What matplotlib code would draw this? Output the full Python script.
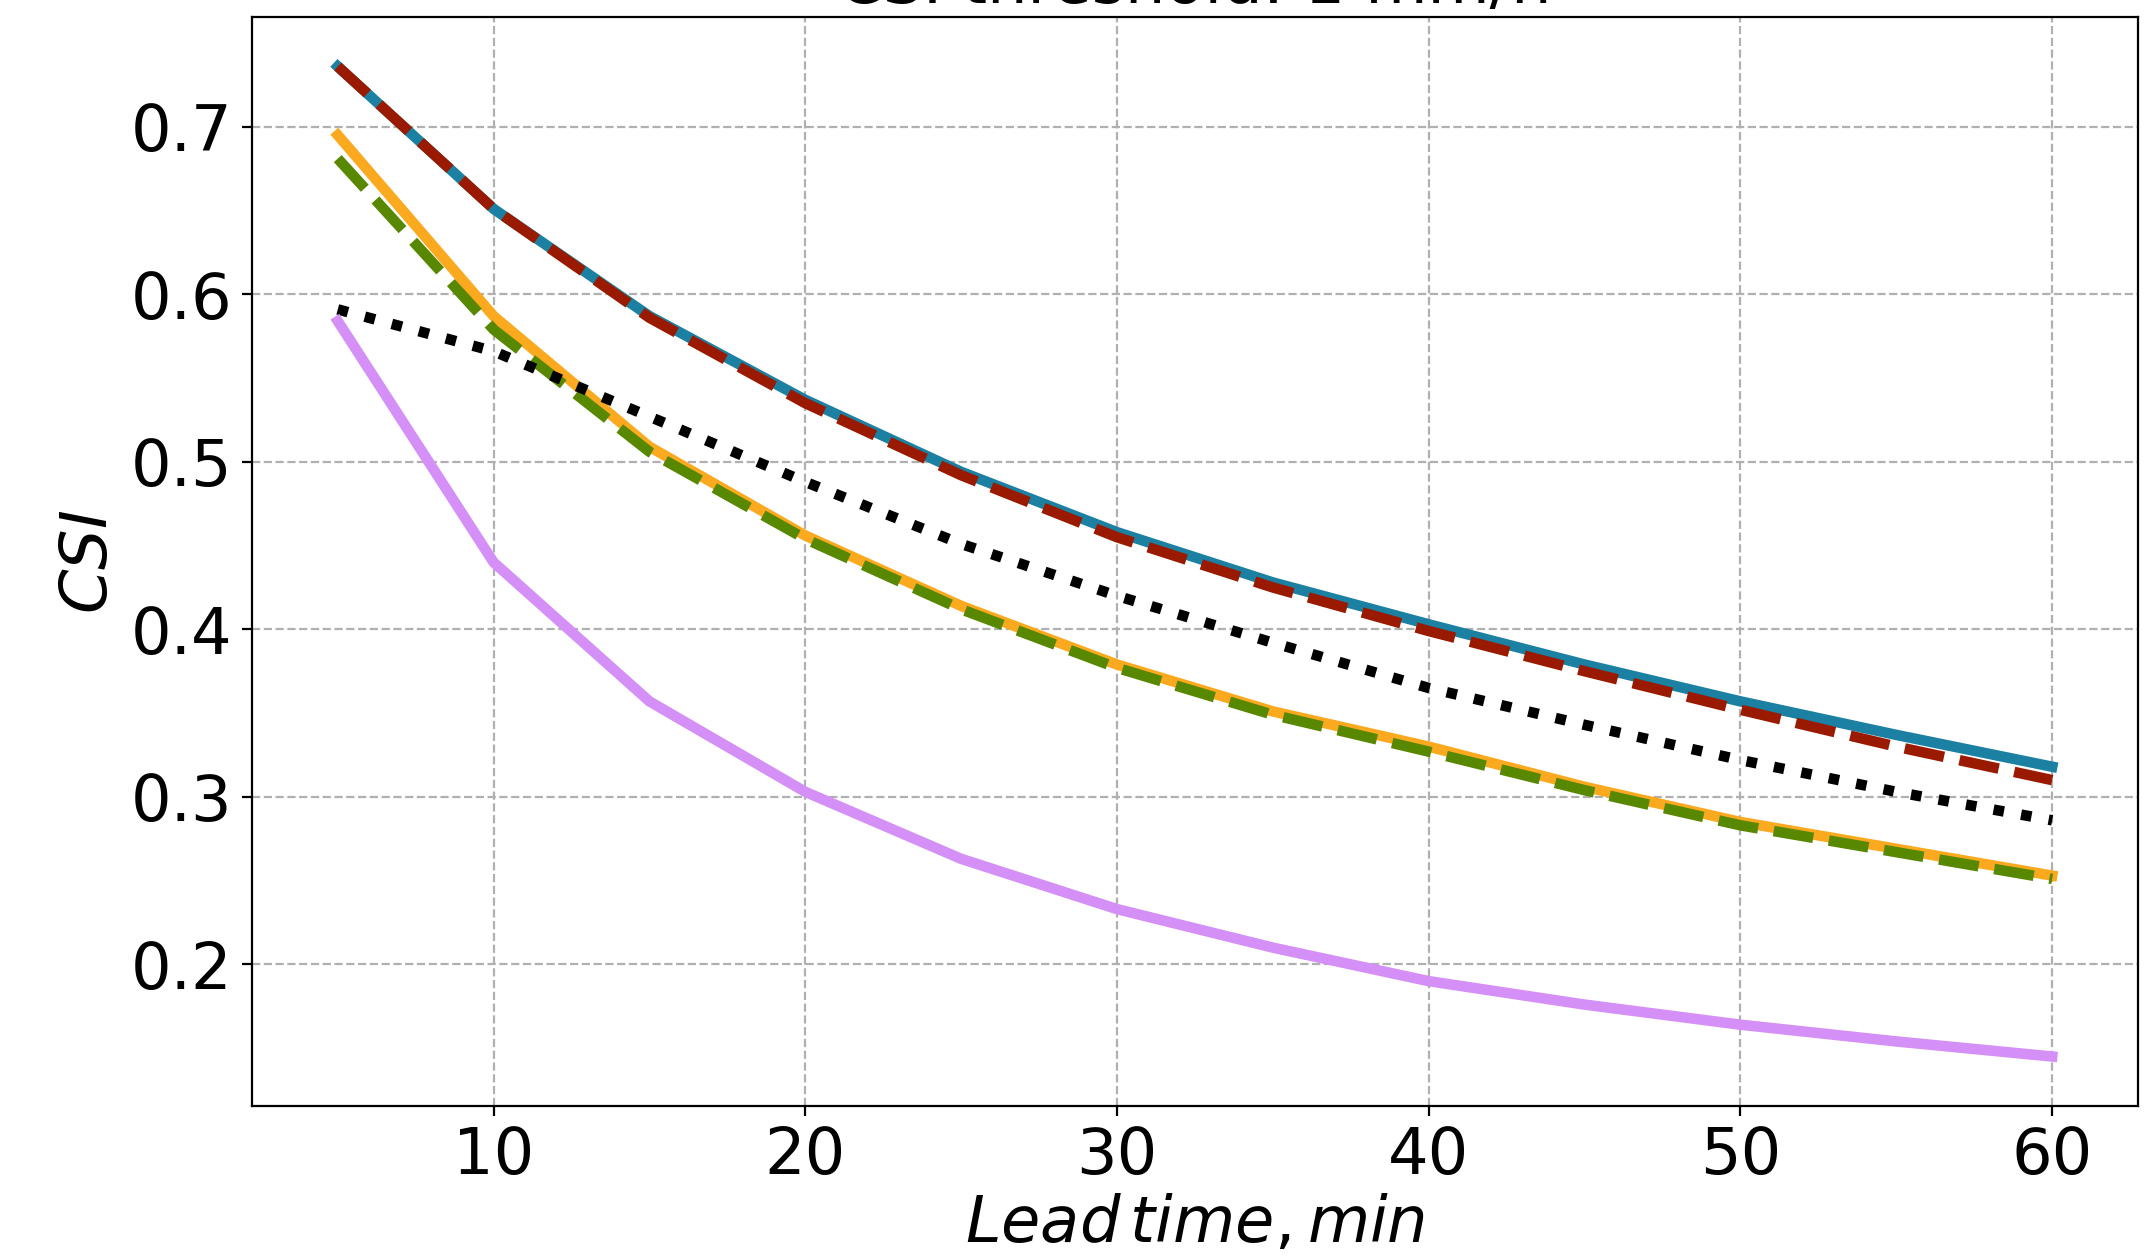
# CSI vs lead time for the different nowcasting models
import matplotlib.pyplot as plt

# Lead times (min)
lead = [5, 10, 15, 20, 25, 30, 35, 40, 45, 50, 55, 60]

# CSI values
blue_vals = [0.736, 0.651, 0.587, 0.537, 0.494, 0.458, 0.428, 0.403, 0.379, 0.357, 0.337, 0.318]
red_vals = [0.736, 0.651, 0.586, 0.535, 0.492, 0.455, 0.425, 0.399, 0.375, 0.352, 0.330, 0.310]
orange_vals = [0.695, 0.587, 0.509, 0.456, 0.414, 0.379, 0.351, 0.330, 0.306, 0.285, 0.269, 0.253]
green_vals = [0.681, 0.579, 0.506, 0.454, 0.412, 0.377, 0.349, 0.327, 0.304, 0.283, 0.267, 0.251]
black_vals = [0.591, 0.566, 0.527, 0.488, 0.451, 0.420, 0.392, 0.365, 0.343, 0.322, 0.303, 0.286]
purple_vals = [0.584, 0.440, 0.357, 0.303, 0.263, 0.233, 0.210, 0.190, 0.176, 0.164, 0.154, 0.145]

fig = plt.figure(figsize=(10.725, 6.29), dpi=200)
ax = fig.add_axes([0.1175, 0.1208, 0.8792, 0.8657])

# solid lines first, dashed ones on top
ax.plot(lead, blue_vals, color="#1b80a1", lw=3.8)
ax.plot(lead, red_vals, color="#9a1a00", lw=3.8, dashes=(3.8, 1.5))
ax.plot(lead, orange_vals, color="#fba91f", lw=3.8)
ax.plot(lead, green_vals, color="#588700", lw=3.8, dashes=(3.8, 1.5))
ax.plot(lead, black_vals, color="black", lw=3.8, linestyle=":")
ax.plot(lead, purple_vals, color="#d490f7", lw=3.8)

ax.grid(True, linestyle="--", color="#b0b0b0", lw=0.8)
ax.tick_params(labelsize=23)
ax.set_xlabel(r"$Lead\,time, min$", fontsize=23, labelpad=2)
ax.set_ylabel(r"$CSI$", fontsize=23)
ax.set_title("CSI threshold: 1 mm/h", fontsize=23, pad=5)

fig.savefig("out.png", dpi=200)
